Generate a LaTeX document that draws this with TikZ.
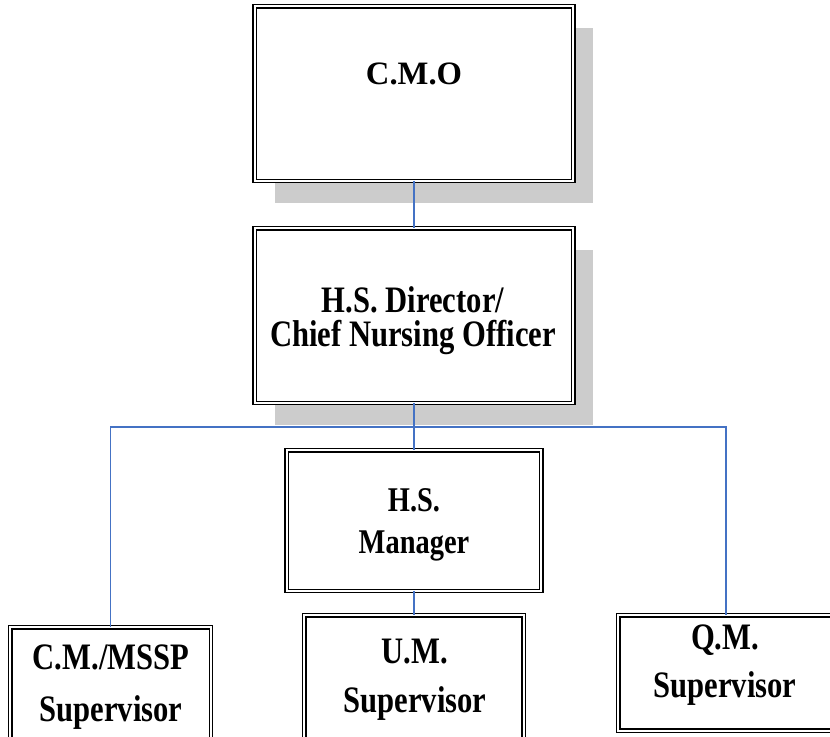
\documentclass[tikz,border=0pt]{standalone}
\usepackage{fontspec}
\setmainfont{Liberation Serif}
\newfontfamily\orgfont[FakeStretch=0.82]{Liberation Serif}
\usetikzlibrary{shadows}
\definecolor{orgblue}{HTML}{4472C4}
\definecolor{orgshade}{HTML}{CCCCCC}

\begin{document}
\begin{tikzpicture}[
  x=0.75pt,y=-0.75pt,
  box/.style={rectangle,draw=black,fill=white,double=white,line width=1.1pt,
              double distance=1.2pt,inner sep=0pt,outer sep=0pt},
  withshadow/.style={drop shadow={shadow xshift=15pt,shadow yshift=-16.5pt,
              fill=orgshade,opacity=1}},
  lbl/.style 2 args={align=center,inner sep=0pt,
              font=\orgfont\bfseries\fontsize{#1}{#2}\selectfont},
  link/.style={draw=orgblue,line width=1.2pt}
]
\useasboundingbox (0,0) rectangle (830,736);
\clip (0,0) rectangle (830,736);

% Top: chief medical officer
\node[box,withshadow,minimum width=238.9pt,minimum height=130.9pt] (cmo) at (414,93.5) {};
\node[inner sep=0pt,font=\bfseries\fontsize{24.5pt}{30pt}\selectfont] (tcmo) at (414,74) {C.M.O};

% Row 2: director
\node[box,withshadow,minimum width=238.9pt,minimum height=130.9pt] (hsd) at (414,315.5) {};
\node[lbl={28pt}{25.5pt}] (thsd) at (413,321) {H.S. Director/\\Chief Nursing Officer};

% Row 3: manager
\node[box,minimum width=190.9pt,minimum height=105.4pt] (hsm) at (414,520.5) {};
\node[lbl={26pt}{31.5pt}] (thsm) at (414,525) {H.S.\\Manager};

% Row 4: supervisors (run off the bottom edge)
\node[box,minimum width=150.4pt,minimum height=86.6pt] (cms) at (110.5,685) {};
\node[lbl={28pt}{38.5pt}] (tcms) at (111,687) {C.M./MSSP\\Supervisor};
\node[box,minimum width=164.6pt,minimum height=93.4pt] (ums) at (414,677.5) {};
\node[lbl={28pt}{37pt}] (tums) at (415,680) {U.M.\\Supervisor};
\node[box,minimum width=161.6pt,minimum height=86.6pt] (qms) at (726,673) {};
\node[lbl={28pt}{36pt}] (tqms) at (725,665) {Q.M.\\Supervisor};

% Connectors
\coordinate (bus) at (414,427);
\draw[link] (cmo.south) -- (hsd.north);
\draw[link] (hsd.south) -- (bus);
\draw[link] (cms.north) |- (bus) -| (qms.north);
\draw[link] (bus) -- (hsm.north);
\draw[link] (hsm.south) -- (ums.north);

\end{tikzpicture}
\end{document}
